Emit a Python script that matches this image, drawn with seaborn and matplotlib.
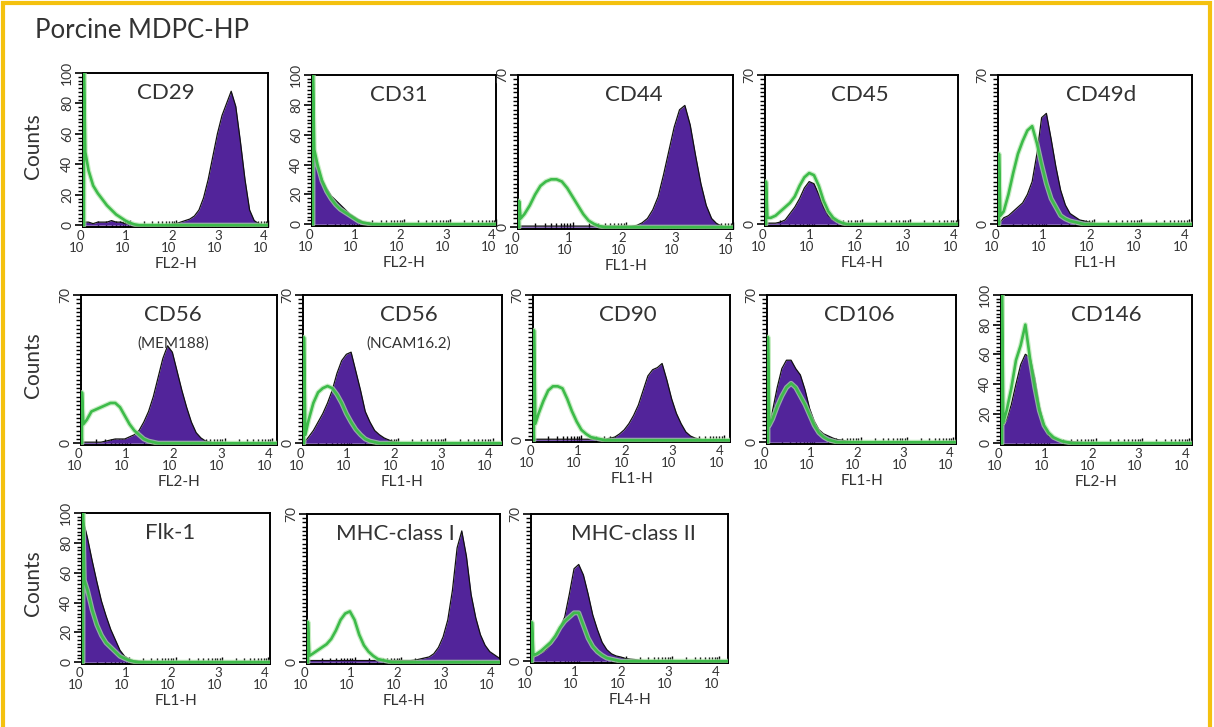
import matplotlib
matplotlib.use("Agg")
import numpy as np
import matplotlib.pyplot as plt
import seaborn as sns
from matplotlib.ticker import FixedLocator, MultipleLocator
from matplotlib.transforms import ScaledTranslation
from matplotlib.patches import Rectangle

sns.set_style("ticks")
plt.rcParams["font.family"] = ["Lato", "DejaVu Sans"]
plt.rcParams["ytick.left"] = True
plt.rcParams["ytick.minor.left"] = True
plt.rcParams["ytick.direction"] = "out"

# fluorescence channel, log10 units (10^0 .. 10^4)
CHANNEL = [0.0, 0.03,
           0.1, 0.2, 0.3, 0.4, 0.5, 0.6, 0.7, 0.8, 0.9,
           1.0, 1.1, 1.2, 1.3, 1.4, 1.5, 1.6, 1.7, 1.8, 1.9,
           2.0, 2.1, 2.2, 2.3, 2.4, 2.5, 2.6, 2.7, 2.8, 2.9,
           3.0, 3.1, 3.2, 3.3, 3.4, 3.5, 3.6, 3.7, 3.8, 3.9,
           4.0, 4.1, 4.2]

# stained cells (purple) and isotype control (green), counts per channel
CD29_STAIN = [1, 2, 2, 1, 2, 2, 2, 3, 2, 2, 1,
              1, 0.5, 0, 0, 0, 0, 0, 0, 0, 0.5,
              1, 2, 3, 4, 6, 10, 18, 30, 45, 60,
              72, 80, 88, 78, 55, 30, 10, 3, 1, 0,
              0, 0, 0]
CD29_ISO = [100, 48, 36, 26, 21, 17, 13, 10, 7, 5, 3,
            1.5, 0.5, 0, 0, 0, 0, 0, 0, 0, 0,
            0, 0, 0, 0, 0, 0, 0, 0, 0, 0,
            0, 0, 0, 0, 0, 0, 0, 0, 0, 0,
            0, 0, 0]

CD31_STAIN = [50, 46, 38, 30, 24, 19, 16, 13, 10, 7, 5,
              3, 1.5, 1, 0.5, 0.5, 0, 0.5, 0, 0, 0,
              0, 0, 0, 0, 0, 0, 0, 0, 0, 0,
              0, 0, 0, 0, 0, 0, 0, 0, 0, 0,
              0, 0, 0]
CD31_ISO = [100, 50, 40, 29, 22, 17, 13, 10, 8, 6, 4,
            2, 1, 0.5, 0, 0, 0, 0, 0, 0, 0,
            0, 0, 0, 0, 0, 0, 0, 0, 0, 0,
            0, 0, 0, 0, 0, 0, 0, 0, 0, 0,
            0, 0, 0]

CD44_STAIN = [0.5, 0.5, 0.5, 0.5, 0.5, 0.5, 0.5, 0.5, 0.5, 0.5, 0.5,
              0.5, 0.5, 0.5, 0.5, 0.5, 0.5, 0.5, 0.5, 0.5, 0.5,
              0.5, 0.5, 0.8, 2, 4, 8, 14, 24, 35, 46,
              54, 56, 47, 33, 20, 10, 4, 1.5, 0.5, 0,
              0, 0, 0]
CD44_ISO = [12, 4, 6, 10, 15, 19, 21, 22, 22, 21, 18,
            14, 10, 6, 3, 1.5, 0.5, 0, 0, 0, 0,
            0, 0, 0, 0, 0, 0, 0, 0, 0, 0,
            0, 0, 0, 0, 0, 0, 0, 0, 0, 0,
            0, 0, 0]

CD45_STAIN = [0, 0.5, 0.5, 0.5, 1, 2, 5, 8, 12, 17, 20,
              19, 14, 8, 4, 2, 1, 0.5, 0, 0, 0,
              0.3, 0, 0, 0, 0, 0.3, 0, 0, 0, 0,
              0, 0, 0, 0, 0, 0, 0, 0, 0, 0,
              0, 0, 0]
CD45_ISO = [20, 3, 3, 4, 6, 8, 10, 13, 18, 22, 24,
            23, 18, 11, 6, 3, 1.5, 0.5, 0, 0, 0,
            0, 0, 0, 0, 0, 0, 0, 0, 0, 0,
            0, 0, 0, 0, 0, 0, 0, 0, 0, 0,
            0, 0, 0]

CD49D_STAIN = [0, 1, 3, 4, 6, 8, 10, 14, 20, 33, 50,
               52, 40, 27, 16, 9, 5, 3.5, 2, 1.5, 1,
               0.3, 0, 0, 0, 0, 0, 0, 0, 0, 0,
               0, 0, 0, 0, 0, 0, 0, 0, 0, 0,
               0, 0, 0]
CD49D_ISO = [33, 4, 6, 14, 24, 33, 39, 44, 46, 38, 28,
             19, 12, 8, 4, 2.5, 1.5, 1, 0.5, 0, 0,
             0, 0, 0, 0, 0, 0, 0, 0, 0, 0,
             0, 0, 0, 0, 0, 0, 0, 0, 0, 0,
             0, 0, 0]

CD56M_STAIN = [0.5, 0.5, 0.5, 0.5, 0.5, 0.5, 1, 1.5, 2, 2, 2,
               3, 4, 6, 10, 15, 22, 31, 40, 46, 43,
               34, 25, 17, 10, 5, 2.5, 1, 0.5, 0, 0,
               0, 0, 0, 0, 0, 0, 0, 0, 0, 0,
               0, 0, 0]
CD56M_ISO = [24, 9, 11, 15, 16, 17, 18, 19, 19, 17, 13,
             9, 6, 4, 2, 1, 0.5, 0, 0, 0, 0,
             0, 0, 0, 0, 0, 0, 0, 0, 0, 0,
             0, 0, 0, 0, 0, 0, 0, 0, 0, 0,
             0, 0, 0]

CD56N_STAIN = [0, 1, 3, 6, 10, 14, 19, 25, 33, 39, 42,
               43, 34, 25, 15, 10, 6, 4, 2.5, 1.5, 0.7,
               0.3, 0, 0, 0, 0, 0, 0, 0, 0, 0,
               0, 0, 0, 0, 0, 0, 0, 0, 0, 0,
               0, 0, 0]
CD56N_ISO = [50, 4, 11, 19, 24, 26, 27, 26, 23, 19, 14,
             10, 6.5, 4, 2, 1, 0.5, 0, 0, 0, 0,
             0, 0, 0, 0, 0, 0, 0, 0, 0, 0,
             0, 0, 0, 0, 0, 0, 0, 0, 0, 0,
             0, 0, 0]

CD90_STAIN = [0.5, 0.5, 0.5, 0.5, 0.5, 0.5, 0.5, 0.5, 0.5, 0.5, 0.5,
              0.5, 0.5, 0.5, 0.5, 0.5, 0.5, 1, 1.5, 3, 5,
              8, 12, 17, 24, 31, 34, 35, 37, 29, 20,
              13, 8, 4, 2, 1, 0.5, 0, 0, 0, 0,
              0, 0, 0]
CD90_ISO = [53, 8, 13, 19, 24, 26, 26, 25, 20, 14, 9,
            5, 3, 1.5, 1, 0.5, 0, 0, 0, 0, 0,
            0, 0, 0, 0, 0, 0, 0, 0, 0, 0,
            0, 0, 0, 0, 0, 0, 0, 0, 0, 0,
            0, 0, 0]

CD106_STAIN = [5, 8, 15, 26, 35, 39, 39, 35, 32, 25, 16,
               10, 6, 4, 3, 2, 1.2, 1, 0.5, 0.3, 0,
               0, 0, 0, 0, 0, 0, 0, 0, 0, 0,
               0, 0, 0, 0, 0, 0, 0, 0, 0, 0,
               0, 0, 0]
CD106_ISO = [50, 8, 11, 17, 22, 26, 28, 26, 22, 18, 13,
             8, 4.5, 2.5, 1.2, 0.6, 0, 0, 0, 0, 0,
             0, 0, 0, 0, 0, 0, 0, 0, 0, 0,
             0, 0, 0, 0, 0, 0, 0, 0, 0, 0,
             0, 0, 0]

CD146_STAIN = [10, 12, 16, 26, 40, 53, 60, 58, 44, 25, 12,
               5, 3, 2, 1.5, 1.2, 1, 0.8, 0.6, 0.5, 0.3,
               0, 0, 0, 0, 0, 0, 0, 0, 0, 0,
               0, 0, 0, 0, 0, 0, 0, 0, 0, 0,
               0, 0, 0]
CD146_ISO = [100, 14, 22, 37, 56, 66, 80, 57, 38, 22, 12,
             7, 4, 2.5, 1.2, 0.6, 0, 0, 0, 0, 0,
             0, 0, 0, 0, 0, 0, 0, 0, 0, 0,
             0, 0, 0, 0, 0, 0, 0, 0, 0, 0,
             0, 0, 0]

FLK1_STAIN = [96, 92, 83, 68, 54, 41, 31, 22, 15, 8, 4,
              2, 1, 0.8, 0.6, 0.5, 0.5, 0.5, 0.5, 0.5, 0.5,
              0.5, 0.5, 0.5, 0.5, 0.5, 0.5, 0.5, 0.5, 0.5, 0.5,
              0.5, 0.5, 0.5, 0.5, 0.5, 0.5, 0.5, 0.5, 0.5, 0.3,
              0.3, 0, 0]
FLK1_ISO = [100, 55, 48, 35, 25, 18, 13, 10, 7, 4, 2.5,
            1.2, 0.5, 0, 0, 0, 0, 0, 0, 0, 0,
            0, 0, 0, 0, 0, 0, 0, 0, 0, 0,
            0, 0, 0, 0, 0, 0, 0, 0, 0, 0,
            0, 0, 0]

MHC1_STAIN = [0.8, 0.8, 0.8, 0.8, 0.8, 0.8, 0.8, 0.8, 0.8, 0.8, 0.8,
              0.8, 0.8, 0.8, 0.8, 0.8, 0.8, 0.8, 0.8, 0.8, 0.8,
              0.8, 0.8, 0.8, 1, 1.5, 2, 2.5, 4, 7, 12,
              20, 34, 54, 62, 50, 32, 21, 13, 8, 5,
              3.5, 2, 0]
MHC1_ISO = [19, 3, 4, 5.5, 7, 8.5, 11, 15, 20, 23, 24,
            20, 13, 8, 5, 3, 1.5, 1, 0.5, 0, 0,
            0, 0, 0, 0, 0, 0, 0, 0, 0, 0,
            0, 0, 0, 0, 0, 0, 0, 0, 0, 0,
            0, 0, 0]

MHC2_STAIN = [1, 2, 3, 4, 5.5, 8, 12, 16, 21, 32, 44,
              46, 41, 32, 22, 15, 9, 5.5, 3.5, 2.5, 2,
              1.3, 1, 0.8, 0.5, 0.3, 0.3, 0.3, 0.3, 0.3, 0.3,
              0.3, 0.3, 0.3, 0.3, 0.3, 0.3, 0.3, 0.3, 0.3, 0.3,
              0.3, 0.3, 0]
MHC2_ISO = [18.5, 3, 3.5, 5, 7, 9, 12, 16, 19, 21, 23,
            23, 17, 11, 7, 4.5, 2.8, 1.5, 1, 0.5, 0,
            0, 0, 0, 0, 0, 0, 0, 0, 0, 0,
            0, 0, 0, 0, 0, 0, 0, 0, 0, 0,
            0, 0, 0]

MARKERS = ["CD29", "CD31", "CD44", "CD45", "CD49d",
           "CD56", "CD56", "CD90", "CD106", "CD146",
           "Flk-1", "MHC-class I", "MHC-class II"]
CLONES = ["", "", "", "", "", "(MEM188)", "(NCAM16.2)", "", "", "", "", "", ""]
DETECTORS = ["FL2-H", "FL2-H", "FL1-H", "FL4-H", "FL1-H",
             "FL2-H", "FL1-H", "FL1-H", "FL1-H", "FL2-H",
             "FL1-H", "FL4-H", "FL4-H"]
Y_MAX = [100, 100, 70, 70, 70, 70, 70, 70, 70, 100, 100, 70, 70]
STAINED = [CD29_STAIN, CD31_STAIN, CD44_STAIN, CD45_STAIN, CD49D_STAIN,
           CD56M_STAIN, CD56N_STAIN, CD90_STAIN, CD106_STAIN, CD146_STAIN,
           FLK1_STAIN, MHC1_STAIN, MHC2_STAIN]
ISOTYPE = [CD29_ISO, CD31_ISO, CD44_ISO, CD45_ISO, CD49D_ISO,
           CD56M_ISO, CD56N_ISO, CD90_ISO, CD106_ISO, CD146_ISO,
           FLK1_ISO, MHC1_ISO, MHC2_ISO]

# layout in pixels: (left, top, right, bottom) of each plot box
BOXES = [(83, 73, 268, 227), (312, 75, 496, 226), (518, 75, 733, 229),
         (765, 75, 958, 226), (998, 75, 1192, 226),
         (81, 295, 277, 445), (303, 295, 502, 445), (533, 295, 730, 442),
         (767, 295, 956, 444), (1001, 295, 1192, 445),
         (82, 513, 270, 664), (307, 514, 500, 664), (531, 514, 728, 663)]
X_END = [4.0, 4.0, 4.0, 4.0, 4.07, 4.1, 4.2, 4.13, 4.06, 4.06, 4.04, 4.12, 4.19]
TITLE_X = [0.45, 0.47, 0.54, 0.49, 0.53, 0.47, 0.53, 0.48, 0.49, 0.55, 0.47, 0.46, 0.52]
COUNTS_Y = [146, 365, 583]

W, H = 1214, 727
PURPLE = "#52249a"
GREEN = "#3dbb4a"
HALO = "#b2e6ad"
TEXT = "#333333"

fig = plt.figure(figsize=(W / 100, H / 100), dpi=100)
fig.patch.set_facecolor("white")
fig.patches.append(Rectangle((3 / W, -0.05), 1207 / W, 1.05 - 3 / H, transform=fig.transFigure,
                             fill=False, edgecolor="#f4c10f", linewidth=3))
fig.text(35 / W, 1 - 31 / H, "Porcine MDPC-HP", fontsize=18.5, color=TEXT, ha="left", va="center")
for cy in COUNTS_Y:
    fig.text(33 / W, 1 - cy / H, "Counts", fontsize=15, color=TEXT, rotation=90,
             ha="center", va="center")

minor_x = [k + np.log10(m) for k in range(4) for m in range(2, 10)]
shift = ScaledTranslation(4 / 72, 0, fig.dpi_scale_trans)

for i, name in enumerate(MARKERS):
    l, t, r, b = BOXES[i]
    ax = fig.add_axes([l / W, 1 - b / H, (r - l) / W, (b - t) / H])
    ymax = Y_MAX[i]

    ax.fill_between(CHANNEL, STAINED[i], color=PURPLE, linewidth=0, zorder=1)
    sns.lineplot(x=CHANNEL, y=STAINED[i], ax=ax, color="#111111", linewidth=0.9,
                 estimator=None, sort=False, zorder=2)
    x_iso = [CHANNEL[0]] + CHANNEL
    y_iso = [0] + ISOTYPE[i]
    sns.lineplot(x=x_iso, y=y_iso, ax=ax, color=HALO, linewidth=3.6, alpha=0.7,
                 estimator=None, sort=False, zorder=3)
    sns.lineplot(x=x_iso, y=y_iso, ax=ax, color=GREEN, linewidth=1.9,
                 estimator=None, sort=False, zorder=4)

    ax.set_xlim(-0.02, X_END[i])
    ax.set_ylim(-ymax * 0.012, ymax)

    ax.set_xticks([0, 1, 2, 3, 4])
    ax.set_xticklabels([f"{k}\n10" for k in range(5)], fontsize=9.5, color=TEXT,
                       ha="right", multialignment="right", linespacing=1.0)
    for lab in ax.get_xticklabels():
        lab.set_transform(lab.get_transform() + shift)
    ax.xaxis.set_minor_locator(FixedLocator(minor_x))
    ax.tick_params(axis="x", which="major", direction="in", length=5, width=1,
                   pad=2, bottom=True, color="black")
    ax.tick_params(axis="x", which="minor", direction="in", length=4, width=1,
                   bottom=True, color="black")

    if ymax == 100:
        ax.set_yticks([0, 20, 40, 60, 80, 100])
        ax.yaxis.set_minor_locator(MultipleLocator(2.5))
    else:
        ax.set_yticks([0, 70])
        ax.yaxis.set_minor_locator(MultipleLocator(2))
    ax.yaxis.set_tick_params(which="major", direction="out", length=6, width=1.2,
                             labelsize=10, labelcolor=TEXT, pad=1, labelrotation=90,
                             left=True, color="black")
    ax.yaxis.set_tick_params(which="minor", direction="out", length=3.5, width=1.0,
                             left=True, color="black")
    for lab in ax.get_yticklabels():
        lab.set_va("center")

    ax.set_xlabel(DETECTORS[i], fontsize=11, color=TEXT, labelpad=2)
    ax.set_ylabel("")
    for sp in ax.spines.values():
        sp.set_visible(True)
        sp.set_color("black")
        sp.set_linewidth(1.4)

    ty = 1 - 20 / (b - t)
    ax.text(TITLE_X[i], ty, name, transform=ax.transAxes, fontsize=16, color=TEXT,
            ha="center", va="center")
    if CLONES[i]:
        ax.text(TITLE_X[i], ty - 0.19, CLONES[i], transform=ax.transAxes, fontsize=11,
                color=TEXT, ha="center", va="center")

fig.savefig("out.png", dpi=100)
